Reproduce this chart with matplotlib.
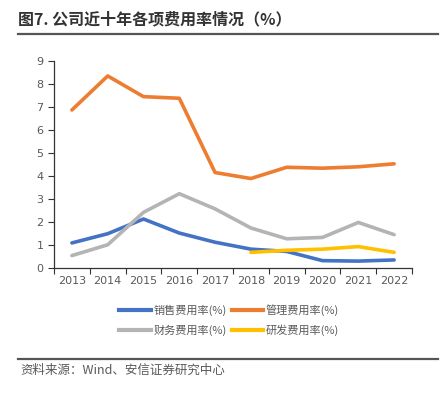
import matplotlib
matplotlib.use("Agg")
import matplotlib.pyplot as plt
from matplotlib.lines import Line2D
import numpy as np

plt.rcParams["font.family"] = ["Noto Sans CJK SC", "DejaVu Sans"]

years = ["2013", "2014", "2015", "2016", "2017", "2018", "2019", "2020", "2021", "2022"]
sales = [1.09, 1.49, 2.13, 1.52, 1.12, 0.82, 0.72, 0.32, 0.30, 0.35]
admin = [6.87, 8.35, 7.45, 7.38, 4.15, 3.89, 4.38, 4.34, 4.40, 4.53]
finance = [0.54, 1.01, 2.42, 3.23, 2.57, 1.74, 1.27, 1.33, 1.98, 1.45]
rd_years = ["2018", "2019", "2020", "2021", "2022"]
rd = [0.68, 0.77, 0.82, 0.93, 0.68]

names = ["销售费用率(%)", "管理费用率(%)", "财务费用率(%)", "研发费用率(%)"]
colors = ["#4472C4", "#ED7D31", "#B4B4B4", "#FFC000"]

fig = plt.figure(figsize=(4.41, 3.93), dpi=100)
ax = fig.add_axes([54 / 441, 1 - 268 / 393, (412 - 54) / 441, (268 - 61) / 393])

x = np.arange(len(years))
xr = np.array([years.index(y) for y in rd_years])
lw = 2.6
ax.plot(x, sales, color=colors[0], lw=lw, solid_capstyle="round")
ax.plot(x, admin, color=colors[1], lw=lw, solid_capstyle="round")
ax.plot(x, finance, color=colors[2], lw=lw, solid_capstyle="round")
ax.plot(xr, rd, color=colors[3], lw=lw, solid_capstyle="round")

ax.set_xlim(-0.5, len(years) - 0.5)
ax.set_ylim(0, 9)
ax.set_yticks(range(0, 10))
ax.set_xticks(np.arange(-0.5, len(years), 1.0))
ax.set_xticklabels([])
ax.set_xticks(x, minor=True)
ax.set_xticklabels(years, minor=True)
ax.tick_params(axis="x", which="major", length=4, width=0.8, color="#333333", direction="out")
ax.tick_params(axis="x", which="minor", length=0, pad=6, labelsize=8, labelcolor="#595959")
ax.tick_params(axis="y", length=4, width=0.8, color="#333333", labelsize=8, labelcolor="#595959")
for t in ax.get_xticklabels(minor=True) + ax.get_yticklabels():
    t.set_family("DejaVu Sans")
for s in ["top", "right"]:
    ax.spines[s].set_visible(False)
for s in ["left", "bottom"]:
    ax.spines[s].set_color("#333333")
    ax.spines[s].set_linewidth(0.9)

handles = [Line2D([], [], color=c, lw=3) for c in colors]
order = [0, 2, 1, 3]
fig.legend([handles[i] for i in order], [names[i] for i in order], ncol=2,
           loc="center", bbox_to_anchor=(0.52, 1 - 320 / 393), frameon=False,
           fontsize=8, handlelength=2.8, handletextpad=0.3, columnspacing=0.4,
           labelspacing=0.8, labelcolor="#595959")

# title and rules
fig.text(18 / 441, 1 - 19 / 393, "图7. 公司近十年各项费用率情况（%）", fontsize=11.5,
         fontweight="bold", color="#333333", va="center", ha="left")
fig.add_artist(Line2D([18 / 441, 438 / 441], [1 - 34 / 393] * 2, color="#555555", lw=1.6))
fig.add_artist(Line2D([18 / 441, 438 / 441], [1 - 359 / 393] * 2, color="#555555", lw=1.6))
fig.text(20 / 441, 1 - 370 / 393, "资料来源：Wind、安信证券研究中心", fontsize=9,
         style="italic", color="#595959", va="center", ha="left")

fig.savefig("out.png", dpi=100)
